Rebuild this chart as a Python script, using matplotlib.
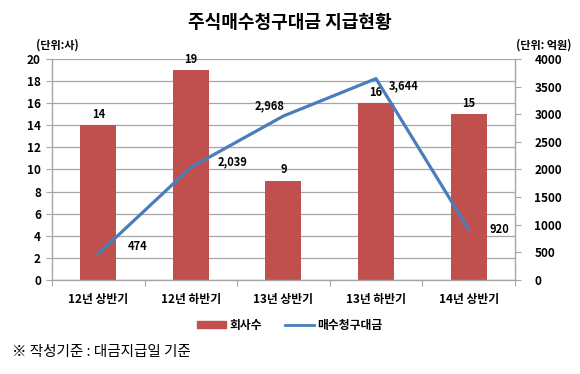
import matplotlib
matplotlib.use("Agg")
import matplotlib.pyplot as plt
from matplotlib.patches import Patch
from matplotlib.lines import Line2D

plt.rcParams["font.family"] = ["Noto Sans CJK KR", "DejaVu Sans"]

categories = ["12년 상반기", "12년 하반기", "13년 상반기", "13년 하반기", "14년 상반기"]
companies = [14, 19, 9, 16, 15]
amounts = [474, 2039, 2968, 3644, 920]
amount_labels = ["474", "2,039", "2,968", "3,644", "920"]
# label offsets in points (dx, dy) for line labels
amount_offsets = [(28, 5), (30, 4), (-10, 7), (20, -5), (22, 0)]

bar_color = "#C0504D"
line_color = "#4A7EBB"
grid_color = "#A6A6A6"

fig = plt.figure(figsize=(5.8, 3.74), dpi=100)
ax = fig.add_axes([0.0897, 0.2513, 0.798, 0.591])
ax2 = ax.twinx()

x = list(range(len(categories)))

ax.bar(x, companies, width=0.39, color=bar_color, zorder=2)
for xi, v in zip(x, companies):
    ax.annotate(str(v), (xi, v), xytext=(0, 3), textcoords="offset points",
                ha="center", va="bottom", fontsize=8, fontweight="bold")

ax.set_ylim(0, 20)
ax.set_yticks(range(0, 21, 2))
ax.set_xlim(-0.5, len(categories) - 0.5)
ax.set_xticks([i + 0.5 for i in range(-1, len(categories))], minor=False)
ax.set_xticklabels([])
ax.set_xticks(x, minor=True)
ax.set_xticklabels(categories, minor=True)
ax.tick_params(axis="x", which="minor", length=0, pad=9, labelsize=8.5)
ax.tick_params(axis="x", which="major", length=4, color=grid_color, direction="out")
ax.tick_params(axis="y", length=4, color=grid_color, labelsize=8.5, pad=4)
for lab in ax.get_xticklabels(minor=True) + ax.get_yticklabels():
    lab.set_fontweight("bold")
ax.grid(axis="y", color=grid_color, linewidth=0.9, zorder=0)
ax.set_axisbelow(True)

ax2.plot(x, amounts, color=line_color, linewidth=2.3, zorder=3)
for xi, v, s, (dx, dy) in zip(x, amounts, amount_labels, amount_offsets):
    ax2.annotate(s, (xi, v), xytext=(dx, dy), textcoords="offset points",
                 ha="center", va="center", fontsize=8, fontweight="bold")
ax2.set_ylim(0, 4000)
ax2.set_yticks(range(0, 4001, 500))
ax2.tick_params(axis="y", length=4, color=grid_color, labelsize=8.5, pad=10)
for lab in ax2.get_yticklabels():
    lab.set_fontweight("bold")

for a in (ax, ax2):
    a.spines["top"].set_visible(False)
    for s in ("left", "right", "bottom"):
        a.spines[s].set_color(grid_color)
        a.spines[s].set_linewidth(1.0)
ax.spines["right"].set_visible(False)
ax2.spines["left"].set_visible(False)
ax2.spines["bottom"].set_visible(False)

fig.text(0.5, 0.94, "주식매수청구대금 지급현황", ha="center", va="center",
         fontsize=13, fontweight="bold")
fig.text(0.062, 0.88, "(단위:사)", ha="left", va="center", fontsize=8, fontweight="bold")
fig.text(0.985, 0.88, "(단위: 억원)", ha="right", va="center", fontsize=8, fontweight="bold")

handles = [Patch(color=bar_color), Line2D([0], [0], color=line_color, linewidth=2)]
leg = fig.legend(handles, ["회사수", "매수청구대금"], loc="center", bbox_to_anchor=(0.5, 0.131),
                 ncol=2, frameon=False, handlelength=2.4, handleheight=0.5,
                 columnspacing=2.0, handletextpad=0.3,
                 prop={"size": 8.5, "weight": "bold"})

fig.text(0.02, 0.058, "※ 작성기준 : 대금지급일 기준", ha="left", va="center", fontsize=10.5)

fig.savefig("out.png", dpi=100)
